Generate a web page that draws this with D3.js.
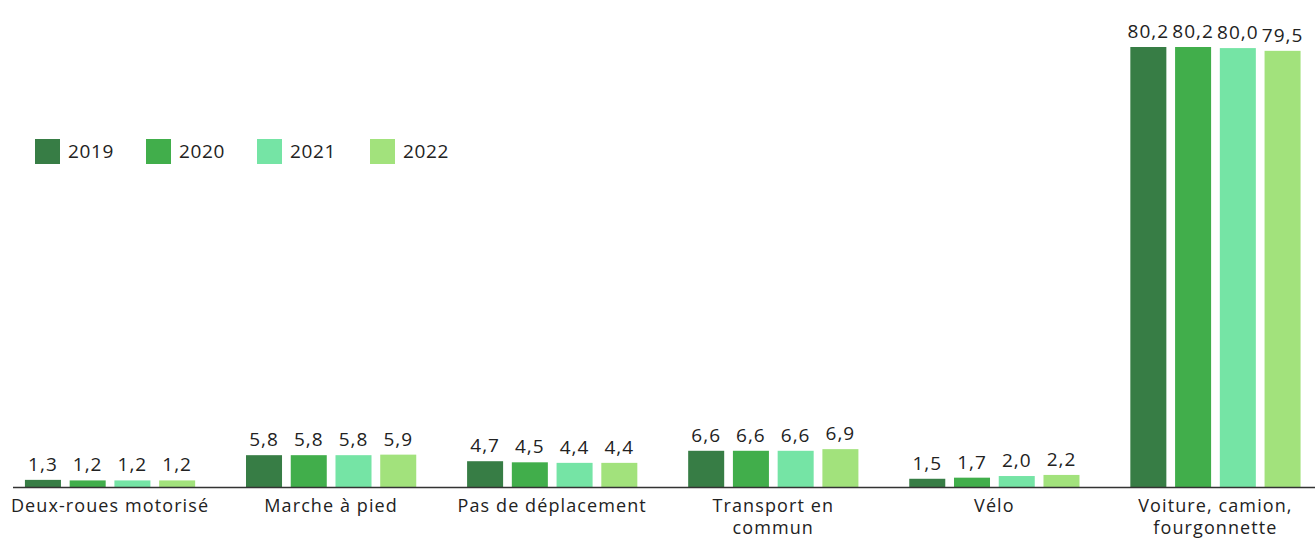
<!DOCTYPE html>
<html>
<head>
<meta charset="utf-8">
<script src="https://cdn.jsdelivr.net/npm/d3@7.9.0/dist/d3.min.js"></script>
<style>
  body { margin: 0; background: #fff; }
  svg { display: block; font-family: "Open Sans", "Noto Sans", sans-serif; }
</style>
</head>
<body>
<div id="viz"></div>
<script>
// data
const categories = ["Deux-roues motorisé", "Marche à pied", "Pas de déplacement", "Transport en commun", "Vélo", "Voiture, camion, fourgonnette"];
const years = ["2019", "2020", "2021", "2022"];
const values2019 = [1.3, 5.8, 4.7, 6.6, 1.5, 80.2];
const values2020 = [1.2, 5.8, 4.5, 6.6, 1.7, 80.2];
const values2021 = [1.2, 5.8, 4.4, 6.6, 2.0, 80.0];
const values2022 = [1.2, 5.9, 4.4, 6.9, 2.2, 79.5];
const colors = ["#377d45", "#41ae4b", "#75e4a5", "#a2e27c"];

const series = [values2019, values2020, values2021, values2022];

const width = 1315, height = 538;
const baseline = 487;

const svg = d3.select("#viz").append("svg")
  .attr("width", width)
  .attr("height", height);

const x0 = d3.scaleBand()
  .domain(categories)
  .range([-0.5, 1326])
  .paddingInner(0.23)
  .paddingOuter(0.115);

const x1 = d3.scaleBand()
  .domain(years)
  .range([0, x0.bandwidth()])
  .paddingInner(0.195)
  .paddingOuter(0);

const y = d3.scaleLinear()
  .domain([0, 80.2])
  .range([baseline, 47]);

const color = d3.scaleOrdinal().domain(years).range(colors);

const fmt = v => d3.format(".1f")(v).replace(".", ",");

// bars
const groups = svg.append("g").selectAll("g")
  .data(categories)
  .join("g")
  .attr("transform", d => `translate(${x0(d)},0)`);

groups.selectAll("rect")
  .data((d, i) => years.map((yr, j) => ({ year: yr, value: series[j][i] })))
  .join("rect")
  .attr("x", d => x1(d.year))
  .attr("y", d => y(d.value))
  .attr("width", x1.bandwidth())
  .attr("height", d => baseline - y(d.value))
  .attr("fill", d => color(d.year));

groups.selectAll("text.val")
  .data((d, i) => years.map((yr, j) => ({ year: yr, value: series[j][i] })))
  .join("text")
  .attr("class", "val")
  .attr("x", d => x1(d.year) + x1.bandwidth() / 2)
  .attr("y", d => y(d.value) - 9)
  .attr("text-anchor", "middle")
  .attr("font-size", "19px")
  .attr("letter-spacing", "1px")
  .attr("fill", "#222")
  .text(d => fmt(d.value));

// axis line
svg.append("line")
  .attr("x1", 13).attr("x2", width)
  .attr("y1", baseline + 0.5).attr("y2", baseline + 0.5)
  .attr("stroke", "#333")
  .attr("stroke-width", 1.5);

// category labels (wrapped, two lines where needed)
const wrapped = {
  "Transport en commun": ["Transport en", "commun"],
  "Voiture, camion, fourgonnette": ["Voiture, camion,", "fourgonnette"]
};

const catLabels = svg.append("g").selectAll("g")
  .data(categories)
  .join("g");

catLabels.selectAll("text")
  .data(d => (wrapped[d] || [d]).map((l, i) => ({ cat: d, line: l, i })))
  .join("text")
  .attr("x", d => x0(d.cat) + x0.bandwidth() / 2)
  .attr("y", d => 512 + d.i * 22)
  .attr("text-anchor", "middle")
  .attr("font-size", "18px")
  .attr("letter-spacing", "1.1px")
  .attr("fill", "#222")
  .text(d => d.line);

// legend
const legendX = [35, 146, 257, 370];
const legend = svg.append("g").selectAll("g")
  .data(years)
  .join("g")
  .attr("transform", (d, i) => `translate(${legendX[i]},139)`);

legend.append("rect")
  .attr("width", 25)
  .attr("height", 25)
  .attr("fill", d => color(d));

legend.append("text")
  .attr("x", 33)
  .attr("y", 19)
  .attr("font-size", "19px")
  .attr("letter-spacing", "0.6px")
  .attr("fill", "#222")
  .text(d => d);
</script>
</body>
</html>
